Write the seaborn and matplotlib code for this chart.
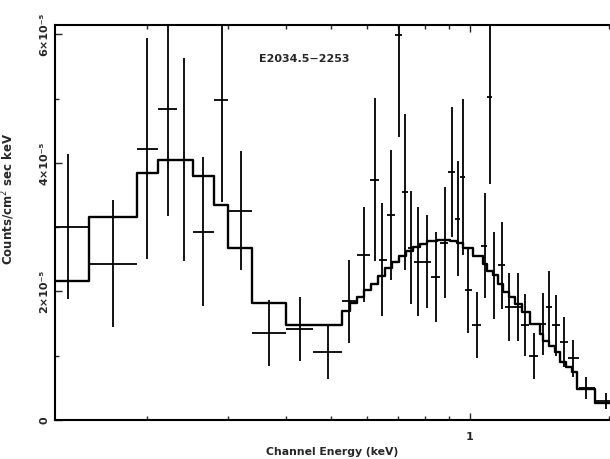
import matplotlib
matplotlib.use("Agg")
import numpy as np
import pandas as pd
import matplotlib.pyplot as plt
import seaborn as sns
from matplotlib.ticker import NullFormatter

# counts are in units of 1e-5 counts / cm^2 sec keV

# folded model (step histogram): bin edges in keV and value per bin
model_edges = [0.1264, 0.1497, 0.1902, 0.2112, 0.2514, 0.2792, 0.2994, 0.3374, 0.3996,
               0.5284, 0.5498, 0.5693, 0.5895, 0.6104, 0.6321, 0.6546, 0.6779, 0.7020,
               0.7269, 0.7527, 0.7794, 0.8071, 0.8482, 0.9052, 0.9373, 0.9657, 1.015,
               1.067, 1.088, 1.121, 1.150, 1.179, 1.214, 1.251, 1.296, 1.349, 1.418,
               1.439, 1.483, 1.528, 1.566, 1.614, 1.663, 1.704, 1.865, 2.009]
model_counts = [2.155, 3.163, 3.845, 4.047, 3.798, 3.349, 2.682, 1.814, 1.473,
                1.690, 1.814, 1.907, 2.016, 2.109, 2.233, 2.357, 2.450, 2.543,
                2.636, 2.698, 2.744, 2.791, 2.806, 2.791, 2.760, 2.682, 2.543,
                2.419, 2.310, 2.248, 2.109, 1.984, 1.907, 1.798, 1.674, 1.488,
                1.333, 1.225, 1.147, 1.054, 0.899, 0.822, 0.744, 0.481, 0.264]

# observed channels
data_energy = [0.1349, 0.1688, 0.2000, 0.2220, 0.2404, 0.2643, 0.2905, 0.3193, 0.3672,
               0.4286, 0.4929, 0.5473, 0.5895, 0.6227, 0.6452, 0.6745, 0.7020, 0.7235,
               0.7455, 0.7716, 0.8071, 0.8440, 0.8828, 0.9143, 0.9419, 0.9657, 0.9901,
               1.0355, 1.0777, 1.1047, 1.1268, 1.1730, 1.2145, 1.2700, 1.3151, 1.3757,
               1.4388, 1.4825, 1.5355, 1.5971, 1.6712, 1.7830, 1.9700]
data_edges = [0.1264, 0.1497, 0.1902, 0.2112, 0.2322, 0.2514, 0.2792, 0.2994, 0.3374,
              0.3996, 0.4572, 0.5284, 0.5693, 0.6075, 0.6353, 0.6614, 0.6881, 0.7126,
              0.7342, 0.7563, 0.7873, 0.8234, 0.8610, 0.8960, 0.9279, 0.9514, 0.9754,
              1.0100, 1.0564, 1.088, 1.1158, 1.150, 1.1906, 1.2390, 1.2894, 1.3418,
              1.4033, 1.4606, 1.5049, 1.566, 1.6298, 1.7218, 1.865, 2.070]
data_counts = [3.008, 2.434, 4.217, 4.837, 4.047, 2.930, 4.977, 3.256, 1.349,
               1.411, 1.054, 1.845, 2.574, 3.736, 2.496, 3.194, 5.984, 3.550,
               2.682, 2.465, 2.465, 2.217, 2.760, 3.860, 3.132, 3.783, 2.016,
               1.473, 2.713, 5.023, 2.248, 2.403, 1.752, 1.752, 1.473, 0.992,
               1.488, 1.752, 1.473, 1.209, 0.961, 0.496, 0.295]
data_sigma = [1.13, 0.98, 1.72, 1.66, 1.58, 1.16, 1.58, 0.93, 0.51,
              0.50, 0.42, 0.64, 0.74, 1.27, 0.88, 1.01, 1.58, 1.21,
              0.88, 0.85, 0.73, 0.70, 0.87, 1.01, 0.90, 1.21, 0.67,
              0.51, 0.82, 1.36, 0.68, 0.68, 0.53, 0.53, 0.48, 0.36,
              0.48, 0.57, 0.47, 0.39, 0.29, 0.17, 0.12]

sns.set_style("ticks")
plt.rcParams['font.family'] = ['DejaVu Sans']

fig = plt.figure(figsize=(6.10, 4.59), dpi=100)
ax = fig.add_axes([0.090, 0.085, 0.910, 0.860])

model_df = pd.DataFrame({"energy": model_edges,
                         "counts": model_counts + [model_counts[-1]]})
sns.lineplot(data=model_df, x="energy", y="counts", ax=ax, color="black",
             lw=1.7, drawstyle="steps-post", estimator=None, sort=False)

e = np.array(data_energy)
ed = np.array(data_edges)
xerr = [e - ed[:-1], ed[1:] - e]
ax.errorbar(data_energy, data_counts, xerr=xerr, yerr=data_sigma, fmt="none",
            ecolor="black", elinewidth=1.3, capsize=0)

ax.set_xscale("log")
ax.set_xlim(0.1264, 2.009)
ax.set_ylim(0, 6.14)

ax.set_xticks([1])
ax.set_xticklabels(["1"])
ax.set_xticks([0.2, 0.3, 0.4, 0.5, 0.6, 0.7, 0.8, 0.9, 2.0], minor=True)
ax.xaxis.set_minor_formatter(NullFormatter())

ax.set_yticks([0, 2, 4, 6])
ax.set_yticklabels(["0", "2\u00d710\u207b\u2075", "4\u00d710\u207b\u2075", "6\u00d710\u207b\u2075"],
                   rotation=90, va="center", fontsize=8.5, fontweight="bold")
ax.set_yticks([1, 3, 5], minor=True)

ax.tick_params(which="both", direction="in", top=True, right=False, width=1.0,
               labelsize=8, pad=4)
ax.tick_params(axis="x", which="major", pad=9)
ax.tick_params(which="major", length=5)
ax.tick_params(which="minor", length=3)
for lbl in ax.get_xticklabels():
    lbl.set_fontweight("bold")

for side in ["left", "bottom", "top"]:
    ax.spines[side].set_linewidth(1.5)
    ax.spines[side].set_color("black")
ax.spines["right"].set_visible(False)

ax.set_xlabel("Channel Energy (keV)", fontsize=7.8, fontweight="bold", labelpad=3)
ax.set_ylabel("Counts/cm$^2$ sec keV", fontsize=8.5, fontweight="bold")
ax.yaxis.set_label_coords(-0.068, 0.56)

ax.text(0.45, 0.915, "E2034.5\u22122253", transform=ax.transAxes, fontsize=8,
        fontweight="bold", ha="center", va="center")

fig.savefig("out.png", dpi=100)
